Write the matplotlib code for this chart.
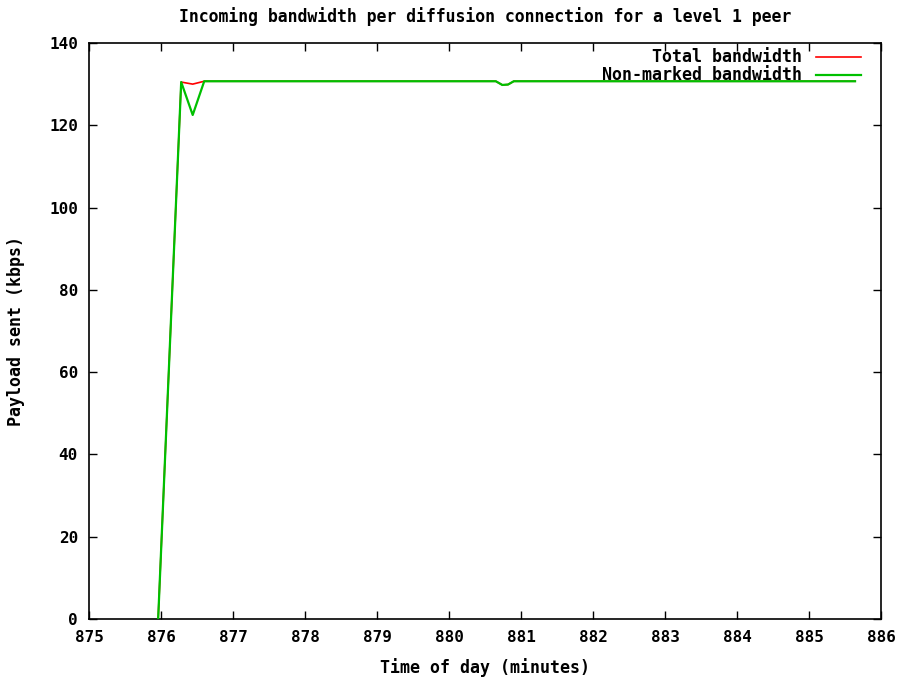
import matplotlib
matplotlib.use('Agg')
from matplotlib import pyplot as plt

plt.rcParams['font.family'] = 'DejaVu Sans Mono'
plt.rcParams['font.weight'] = 'bold'
plt.rcParams['axes.titleweight'] = 'bold'
plt.rcParams['axes.labelweight'] = 'bold'
plt.rcParams['font.size'] = 12

# sample times (minutes) and payload (kbps)
t_total = [875.96, 876.28, 876.44, 876.60, 880.65, 880.74, 880.82, 880.90, 885.64]
total_bw = [0.0, 130.5, 130.0, 130.7, 130.7, 129.8, 129.9, 130.7, 130.7]
t_nonmarked = [875.96, 876.28, 876.44, 876.60, 880.65, 880.74, 880.82, 880.90, 885.64]
nonmarked_bw = [0.0, 130.5, 122.5, 130.7, 130.7, 129.8, 129.9, 130.7, 130.7]

fig = plt.figure(figsize=(9.03, 6.79), dpi=100)
ax = fig.add_axes([0.0986, 0.0884, 0.8770, 0.8483])

ax.plot(t_total, total_bw, color='#ff0000', lw=1.2, label='Total bandwidth', zorder=2)
ax.plot(t_nonmarked, nonmarked_bw, color='#00c000', lw=1.6, label='Non-marked bandwidth', zorder=3)

ax.set_xlim(875, 886)
ax.set_ylim(0, 140)
ax.set_xticks(range(875, 887))
ax.set_yticks(range(0, 141, 20))
ax.tick_params(direction='in', top=True, right=True, length=6, width=1, pad=8, labelsize=11.5)
for s in ax.spines.values():
    s.set_linewidth(1.2)

ax.set_title('Incoming bandwidth per diffusion connection for a level 1 peer',
             fontsize=11.9, pad=15)
ax.set_xlabel('Time of day (minutes)', labelpad=9)
ax.set_ylabel('Payload sent (kbps)', labelpad=17)

leg = ax.legend(loc='upper right', bbox_to_anchor=(0.987, 1.008), frameon=False,
                markerfirst=False, handlelength=2.7, borderaxespad=0.2,
                labelspacing=0.0, handletextpad=0.8)
for txt in leg.get_texts():
    txt.set_ha('right')

fig.savefig('out.png', dpi=100)
